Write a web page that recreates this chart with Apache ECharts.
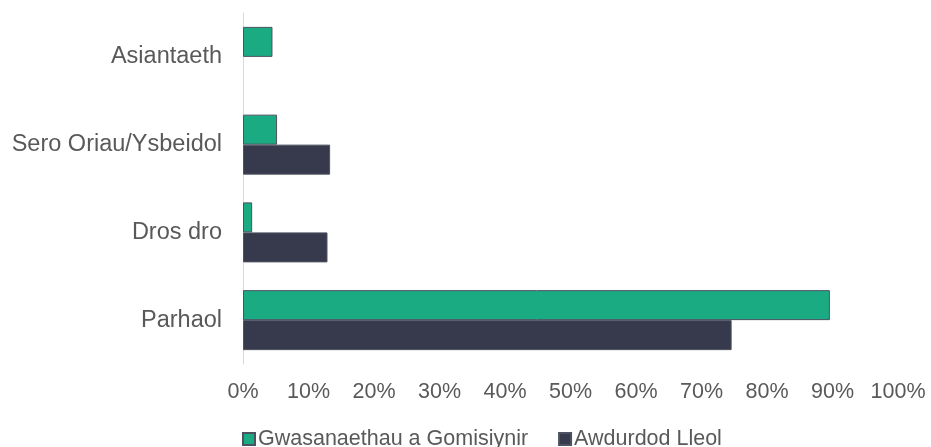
<!DOCTYPE html>
<html>
<head>
<meta charset="utf-8">
<script src="https://cdn.jsdelivr.net/npm/echarts@6/dist/echarts.min.js"></script>
<style>
  html, body { margin: 0; padding: 0; background: #fff; }
  #chart { width: 931px; height: 447px; }
</style>
</head>
<body>
<div id="chart"></div>
<script>
// 类别（从下到上）
var categories = ['Parhaol', 'Dros dro', 'Sero Oriau/Ysbeidol', 'Asiantaeth'];
// 系列名称
var seriesNames = ['Gwasanaethau a Gomisiynir', 'Awdurdod Lleol'];
// 百分比数值
var commissioned = [89.6, 1.4, 5.2, 4.5];
var localAuthority = [74.6, 12.9, 13.3, null];
// x 轴刻度
var tickMin = 0, tickMax = 100, tickStep = 10;

var chart = echarts.init(document.getElementById('chart'));

var textColor = '#595959';
var font = 'Liberation Sans';

var option = {
  animation: false,
  grid: { left: 243, right: 33, top: 13, bottom: 83 },
  legend: {
    left: 242,
    top: 428,
    padding: 0,
    itemWidth: 12,
    itemHeight: 12,
    itemGap: 30,
    icon: 'rect',
    textStyle: { color: textColor, fontSize: 21.5, fontFamily: font, padding: [0, 0, 0, -2] },
    data: seriesNames
  },
  xAxis: {
    type: 'value',
    min: tickMin,
    max: tickMax,
    interval: tickStep,
    axisLine: { show: false },
    axisTick: { show: false },
    splitLine: { show: false },
    axisLabel: {
      color: textColor, fontSize: 21.5, fontFamily: font, margin: 17,
      formatter: '{value}%'
    }
  },
  yAxis: {
    type: 'category',
    data: categories,
    axisLine: { show: true, lineStyle: { color: '#d9d9d9', width: 1 } },
    axisTick: { show: false },
    axisLabel: { color: textColor, fontSize: 23.5, fontFamily: font, margin: 21 }
  },
  series: [
    {
      name: seriesNames[0],
      type: 'bar',
      data: commissioned,
      barWidth: 30,
      barGap: '0%',
      itemStyle: { color: '#1aab82', borderColor: '#4d5260', borderWidth: 1 }
    },
    {
      name: seriesNames[1],
      type: 'bar',
      data: localAuthority,
      barWidth: 30,
      barGap: '0%',
      itemStyle: { color: '#373a4d', borderColor: '#4d5260', borderWidth: 1 }
    }
  ]
};

chart.setOption(option);
</script>
</body>
</html>
